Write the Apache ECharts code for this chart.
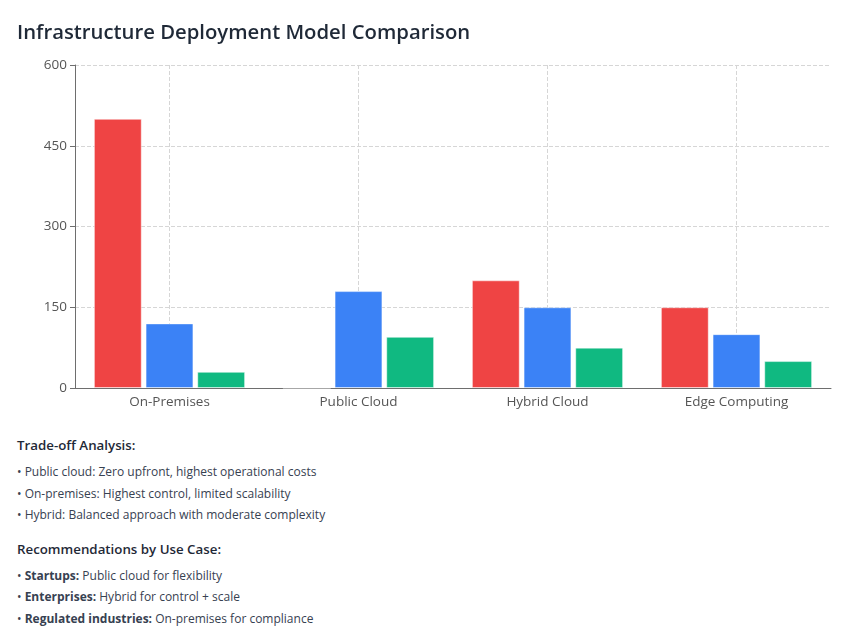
<!DOCTYPE html>
<html>
<head>
<meta charset="utf-8">
<script src="https://cdn.jsdelivr.net/npm/echarts@6/dist/echarts.min.js"></script>
<style>
  html, body { margin: 0; padding: 0; background: #fff; }
  body { width: 855px; height: 644px; position: relative; overflow: hidden; font-family: "Open Sans", "Noto Sans", sans-serif; }
  #chart { position: absolute; left: 0; top: 0; width: 855px; height: 420px; }
  #notes { position: absolute; left: 17px; top: 434px; color: #374151; font-size: 12px; }
  #notes .h { font-weight: 600; font-size: 13.3px; color: #1f2937; line-height: 22px; height: 22px; }
  #notes .l { line-height: 21.6px; height: 21.6px; }
  #notes .gap1 { height: 5px; }
  #notes .gap2 { height: 12px; }
  #notes b { font-weight: 700; color: #374151; }
</style>
</head>
<body>
<div id="chart"></div>
<div id="notes">
  <div class="h">Trade-off Analysis:</div>
  <div class="gap1"></div>
  <div class="l">• Public cloud: Zero upfront, highest operational costs</div>
  <div class="l">• On-premises: Highest control, limited scalability</div>
  <div class="l">• Hybrid: Balanced approach with moderate complexity</div>
  <div class="gap2"></div>
  <div class="h">Recommendations by Use Case:</div>
  <div class="gap1"></div>
  <div class="l">• <b>Startups:</b> Public cloud for flexibility</div>
  <div class="l">• <b>Enterprises:</b> Hybrid for control + scale</div>
  <div class="l">• <b>Regulated industries:</b> On-premises for compliance</div>
</div>
<script>
const categories = ['On-Premises', 'Public Cloud', 'Hybrid Cloud', 'Edge Computing'];
const seriesRed = [500, 0, 200, 150];
const seriesBlue = [120, 180, 150, 100];
const seriesGreen = [30, 95, 75, 50];
const yTicks = { min: 0, max: 600, interval: 150 };

const chart = echarts.init(document.getElementById('chart'));
const mk = (data, color) => ({
  type: 'bar',
  data: data,
  barCategoryGap: '20%',
  barGap: '8%',
  itemStyle: { color: color, borderColor: 'rgba(255,255,255,0.45)', borderWidth: 1 }
});
chart.setOption({
  animation: false,
  title: {
    text: 'Infrastructure Deployment Model Comparison',
    left: 12, top: 18,
    textStyle: { fontFamily: 'Open Sans', fontSize: 20.3, fontWeight: 600, color: '#1f2937' }
  },
  grid: { left: 75, right: 24, top: 65, bottom: 32 },
  xAxis: {
    type: 'category',
    data: categories,
    axisLine: { lineStyle: { color: '#6e6e6e' } },
    axisTick: { alignWithLabel: true, lineStyle: { color: '#6e6e6e' } },
    axisLabel: { fontFamily: 'Open Sans', fontSize: 13.5, color: '#555', margin: 7 },
    splitLine: { show: true, alignWithLabel: true, lineStyle: { type: 'dashed', color: '#d6d6d6' } }
  },
  yAxis: {
    type: 'value',
    min: yTicks.min, max: yTicks.max, interval: yTicks.interval,
    axisLine: { show: true, lineStyle: { color: '#6e6e6e' } },
    axisTick: { show: true, lineStyle: { color: '#6e6e6e' } },
    axisLabel: { fontFamily: 'Open Sans', fontSize: 13.5, color: '#555', margin: 8 },
    splitLine: { show: true, lineStyle: { type: 'dashed', color: '#d6d6d6' } }
  },
  series: [mk(seriesRed, '#ef4444'), mk(seriesBlue, '#3b82f6'), mk(seriesGreen, '#10b981')]
});
</script>
</body>
</html>
